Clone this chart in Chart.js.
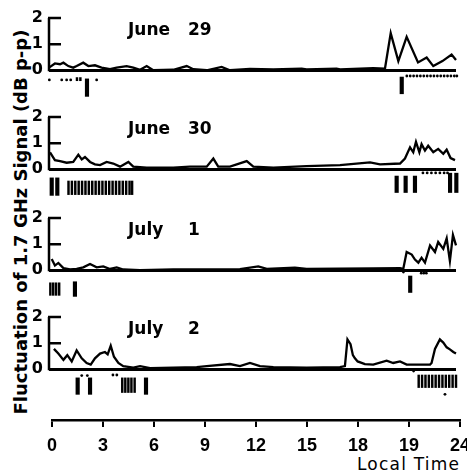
<!DOCTYPE html>
<html><head><meta charset="utf-8">
<script src="https://cdn.jsdelivr.net/npm/chart.js@4.4.1/dist/chart.umd.min.js"></script>
<style>
html,body{margin:0;padding:0;background:#fff;}
#wrap{position:relative;width:467px;height:471px;overflow:hidden;background:#fff;}
canvas{position:absolute;left:0;}
.t{position:absolute;color:#000;white-space:nowrap;font-family:"DejaVu Sans";}
#ytitle{left:21px;top:222px;font-size:18px;font-weight:bold;line-height:18px;transform:translate(-50%,-50%) rotate(-90deg);}
#xtitle{left:357px;top:456px;font-size:17px;line-height:17px;letter-spacing:1.2px;}
</style></head>
<body><div id="wrap">
<div id="ytitle" class="t">Fluctuation of 1.7 GHz Signal (dB p-p)</div>
<div id="xtitle" class="t">Local Time</div>
</div>
<script>
// ---- data ----
const panelLabels = ['June 29', 'June 30', 'July 1', 'July 2'];
const yTickValues = [0, 1, 2];
const yTickLabels = ['0', '1', '2'];
const xTickValues = [0, 3, 6, 9, 12, 15, 18, 21, 24];
const xTickLabels = ['0', '3', '6', '9', '12', '15', '18', '19', '24'];

// June 29
const jun29Hours = [0,0.35,0.65,0.85,1.14,1.43,1.63,2.02,2.32,2.71,3.1,3.6,3.99,4.58,4.97,5.37,5.76,6.15,7.33,8.12,8.51,9.3,10.18,10.67,11.85,13.23,14.9,15.19,16.96,17.16,19.12,19.81,20.15,20.6,21.09,21.76,22.27,22.66,23.2,23.74,24.0];
const jun29Signal = [0.1,0.26,0.23,0.29,0.16,0.1,0.16,0.29,0.16,0.19,0.1,0.04,0.1,0.16,0.1,0.02,0.16,0.0,0.02,0.16,0.04,0.0,0.13,0.0,0.05,0.03,0.06,0.03,0.06,0.03,0.08,0.06,1.42,0.35,1.28,0.3,0.49,0.16,0.35,0.6,0.39];
const jun29Bars = [[2.24,-0.33,-1.0],[20.8,-0.26,-0.9]];
const jun29Blocks = [[1.65,-0.28,-0.4],[1.85,-0.28,-0.4]];
const jun29Dots = [[0.02,-0.37],[0.75,-0.37],[1.04,-0.37],[1.28,-0.37],[2.81,-0.37],[21.1,-0.22],[21.3,-0.22],[21.5,-0.22],[21.7,-0.22],[21.9,-0.22],[22.1,-0.22],[22.3,-0.22],[22.5,-0.22],[22.7,-0.22],[22.9,-0.22],[23.1,-0.22],[23.3,-0.22],[23.5,-0.22],[23.7,-0.22],[23.9,-0.22],[24.05,-0.22]];

// June 30
const jun30Hours = [0.06,0.35,0.65,1.04,1.43,1.73,1.93,2.12,2.42,2.71,3.01,3.4,3.79,4.19,4.68,4.97,5.76,7.33,8.31,9.3,9.69,9.98,10.67,11.66,12.05,13.23,15.19,17.16,18.93,19.52,20.7,20.99,21.29,21.48,21.64,21.84,21.97,22.17,22.36,22.66,22.95,23.25,23.45,23.68,23.94];
const jun30Signal = [0.65,0.35,0.31,0.25,0.28,0.56,0.38,0.47,0.28,0.19,0.16,0.28,0.22,0.1,0.28,0.1,0.06,0.06,0.1,0.1,0.41,0.1,0.1,0.31,0.1,0.06,0.12,0.16,0.26,0.19,0.22,0.41,0.84,0.65,1.05,0.65,0.96,0.72,0.9,0.65,0.78,0.59,0.75,0.43,0.35];
const jun30Bars = [[0.16,-0.33,-1.0],[0.49,-0.33,-1.0],[20.5,-0.26,-0.89],[21.03,-0.26,-0.89],[21.58,-0.26,-0.89],[23.65,-0.15,-0.89],[24.02,-0.15,-0.89]];
const jun30Blocks = [[1.15,-0.45,-0.97],[1.35,-0.45,-0.97],[1.55,-0.45,-0.97],[1.75,-0.45,-0.97],[1.95,-0.45,-0.97],[2.15,-0.45,-0.97],[2.35,-0.45,-0.97],[2.55,-0.45,-0.97],[2.75,-0.45,-0.97],[2.95,-0.45,-0.97],[3.15,-0.45,-0.97],[3.35,-0.45,-0.97],[3.55,-0.45,-0.97],[3.75,-0.45,-0.97],[3.95,-0.45,-0.97],[4.15,-0.45,-0.97],[4.35,-0.45,-0.97],[4.55,-0.45,-0.97],[4.75,-0.45,-0.97],[4.9,-0.45,-0.97]];
const jun30Dots = [[22.05,-0.14],[22.3,-0.14],[22.55,-0.14],[22.8,-0.14],[23.05,-0.14],[23.3,-0.14],[23.5,-0.14]];

// July 1
const jul1Hours = [0.16,0.35,0.55,0.85,1.24,1.63,2.02,2.42,2.81,3.2,3.6,3.99,4.38,5.37,7.33,11.26,12.34,12.84,14.5,15.19,17.16,19.12,20.7,20.89,21.09,21.39,21.58,21.78,21.97,22.17,22.47,22.76,22.95,23.25,23.45,23.64,23.82,24.0];
const jul1Signal = [0.43,0.18,0.28,0.08,0.03,0.05,0.11,0.24,0.11,0.15,0.05,0.11,0.03,0.0,0.03,0.04,0.15,0.05,0.1,0.05,0.06,0.07,0.08,0.05,0.7,0.6,0.41,0.29,0.48,0.29,0.95,0.7,1.08,0.82,1.22,0.35,1.35,0.95];
const jul1Bars = [[1.53,-0.44,-1.0],[21.3,-0.22,-0.85]];
const jul1Blocks = [[0.08,-0.48,-0.96],[0.25,-0.48,-0.96],[0.42,-0.48,-0.96],[0.6,-0.48,-0.96]];
const jul1Dots = [[20.9,-0.07],[21.95,-0.11],[22.1,-0.11],[22.25,-0.11]];

// July 2
const jul2Hours = [0.29,0.55,0.85,1.08,1.34,1.63,1.93,2.22,2.46,2.71,3.01,3.3,3.46,3.64,3.83,4.09,4.38,4.97,5.37,5.96,7.33,8.71,9.3,10.67,11.26,11.85,12.44,13.23,15.19,17.16,17.45,17.6,17.78,17.92,18.04,18.2,18.63,19.12,19.91,20.3,20.7,21.09,22.47,22.56,22.76,23.05,23.25,23.45,23.64,23.84,24.0];
const jul2Signal = [0.78,0.6,0.36,0.54,0.3,0.72,0.42,0.24,0.18,0.42,0.6,0.66,0.57,0.9,0.48,0.24,0.12,0.06,0.12,0.04,0.06,0.08,0.12,0.2,0.12,0.24,0.12,0.08,0.06,0.08,0.12,1.14,0.96,0.54,0.42,0.3,0.2,0.18,0.33,0.24,0.3,0.18,0.18,0.24,0.78,1.14,1.02,0.84,0.76,0.66,0.6];
const jul2Bars = [[1.69,-0.33,-0.96],[2.42,-0.33,-0.96],[5.72,-0.33,-0.96]];
const jul2Blocks = [[4.32,-0.33,-0.89],[4.5,-0.33,-0.89],[4.68,-0.33,-0.89],[4.86,-0.33,-0.89],[5.05,-0.33,-0.89],[21.8,-0.22,-0.7],[22.0,-0.22,-0.7],[22.2,-0.22,-0.7],[22.4,-0.22,-0.7],[22.6,-0.22,-0.7],[22.8,-0.22,-0.7],[23.0,-0.22,-0.7],[23.2,-0.22,-0.7],[23.4,-0.22,-0.7],[23.6,-0.22,-0.7],[23.8,-0.22,-0.7],[24.0,-0.22,-0.7]];
const jul2Dots = [[1.93,-0.24],[2.26,-0.24],[3.77,-0.22],[4.0,-0.22],[21.5,-0.07],[23.35,-0.96]];

// ---- drawing ----
const wrap = document.getElementById('wrap');

const panelPlugin = {
  id: 'panelAxis',
  afterDatasetsDraw(chart, args, opts) {
    const ctx = chart.ctx, y = chart.scales.y, x0 = chart.chartArea.left;
    ctx.save();
    ctx.strokeStyle = '#000';
    ctx.lineWidth = 2.5;
    ctx.lineCap = 'butt';
    ctx.beginPath();
    ctx.moveTo(x0, y.getPixelForValue(0) + 1);
    ctx.lineTo(x0, y.getPixelForValue(2));
    [1, 2].forEach(v => {
      const py = y.getPixelForValue(v);
      ctx.moveTo(x0 - 1, py);
      ctx.lineTo(x0 + 12, py);
    });
    ctx.stroke();
    const parts = opts.label.split(' ');
    ctx.fillStyle = '#000';
    ctx.font = 'bold 17px "DejaVu Sans"';
    ctx.textBaseline = 'middle';
    ctx.textAlign = 'left';
    const ly = y.getPixelForValue(2) + 13;
    ctx.fillText(parts[0], 128, ly);
    ctx.fillText(parts[1], 188, ly);
    ctx.restore();
  }
};

function makePanel(top, label, hours, signal, bars, blocks, dots) {
  const cv = document.createElement('canvas');
  cv.width = 467; cv.height = 95;
  cv.style.top = top + 'px';
  wrap.appendChild(cv);
  new Chart(cv, {
    type: 'line',
    data: {
      datasets: [
        { type: 'line', data: hours.map((h, k) => ({ x: h, y: signal[k] })), borderColor: '#000', borderWidth: 2.3, pointRadius: 0, tension: 0, clip: false },
        { type: 'bar', data: bars.map(b => ({ x: b[0], y: [b[1], b[2]] })), backgroundColor: '#000', borderWidth: 0, barThickness: 3.5, grouped: false, clip: false },
        { type: 'bar', data: blocks.map(b => ({ x: b[0], y: [b[1], b[2]] })), backgroundColor: '#000', borderWidth: 0, barThickness: 1.8, grouped: false, clip: false },
        { type: 'line', showLine: false, data: dots.map(d => ({ x: d[0], y: d[1] })), pointRadius: 1.4, pointBackgroundColor: '#000', pointBorderWidth: 0, clip: false }
      ]
    },
    options: {
      responsive: false, animation: false, events: [],
      layout: { padding: { top: 10, right: 11, left: 0, bottom: 0 } },
      plugins: { legend: { display: false }, tooltip: { enabled: false }, panelAxis: { label: label } },
      scales: {
        x: { type: 'linear', min: 0, max: 24, display: false, offset: false },
        y: {
          type: 'linear', min: -1.1, max: 2,
          afterBuildTicks: s => { s.ticks = yTickValues.map(v => ({ value: v })); },
          afterFit: s => { s.width = 49; s.paddingTop = 0; s.paddingBottom = 0; },
          border: { display: false },
          grid: {
            drawTicks: false,
            color: c => (c.tick && c.tick.value === 0) ? '#000' : 'rgba(0,0,0,0)',
            lineWidth: c => (c.tick && c.tick.value === 0) ? 3 : 0
          },
          ticks: {
            color: '#000', padding: 6, autoSkip: false,
            font: { family: 'DejaVu Sans', weight: 'bold', size: 16 },
            callback: (v, i) => yTickLabels[i]
          }
        }
      }
    },
    plugins: [panelPlugin]
  });
}

makePanel(8, panelLabels[0], jun29Hours, jun29Signal, jun29Bars, jun29Blocks, jun29Dots);
makePanel(107, panelLabels[1], jun30Hours, jun30Signal, jun30Bars, jun30Blocks, jun30Dots);
makePanel(208, panelLabels[2], jul1Hours, jul1Signal, jul1Bars, jul1Blocks, jul1Dots);
makePanel(307, panelLabels[3], jul2Hours, jul2Signal, jul2Bars, jul2Blocks, jul2Dots);

// bottom time axis
const cvb = document.createElement('canvas');
cvb.width = 467; cvb.height = 71;
cvb.style.top = '400px';
wrap.appendChild(cvb);
new Chart(cvb, {
  type: 'line',
  data: { datasets: [] },
  options: {
    responsive: false, animation: false, events: [],
    layout: { padding: { left: 52, right: 7, top: 0, bottom: 0 } },
    plugins: { legend: { display: false }, tooltip: { enabled: false } },
    scales: {
      x: {
        type: 'linear', position: 'bottom', min: 0, max: 24,
        afterBuildTicks: s => { s.ticks = xTickValues.map(v => ({ value: v })); },
        afterFit: s => { s.height = 51; s.paddingLeft = 0; s.paddingRight = 0; },
        border: { display: true, color: '#000', width: 2.5 },
        grid: { drawOnChartArea: false, drawTicks: true, tickLength: 7, color: '#000', lineWidth: 2 },
        ticks: {
          autoSkip: false, maxRotation: 0, color: '#000', padding: 8,
          font: { family: 'Liberation Sans', weight: 'bold', size: 18 },
          callback: (v, i) => xTickLabels[i]
        }
      },
      y: { display: false }
    }
  }
});
</script>
</body></html>
